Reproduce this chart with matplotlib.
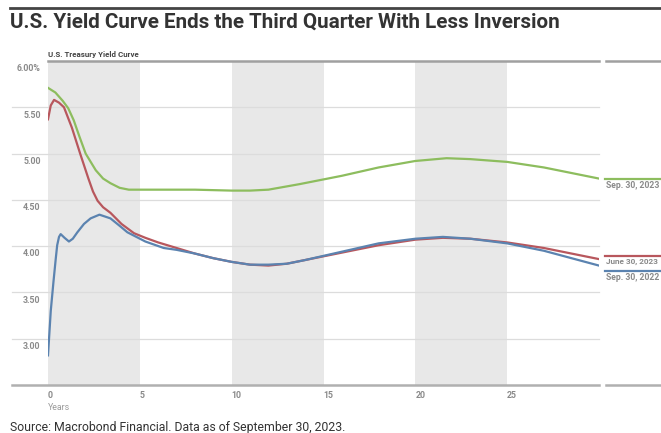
import matplotlib.pyplot as plt
from matplotlib.lines import Line2D

# yields (maturity in years, yield in %)
x_sep23 = [0, 0.4, 0.8, 1.1, 1.4, 1.7, 2.05, 2.6, 3.0, 3.4, 3.9, 4.4, 5, 7, 8, 10, 11, 12, 13.7, 16, 18, 20,
           21.7, 23, 25, 27, 30]
y_sep23 = [5.71, 5.66, 5.57, 5.49, 5.36, 5.19, 5.00, 4.82, 4.73, 4.68, 4.63, 4.61, 4.61, 4.61, 4.61, 4.60,
           4.60, 4.61, 4.67, 4.76, 4.85, 4.92, 4.95, 4.94, 4.91, 4.85, 4.73]

x_jun23 = [0, 0.15, 0.33, 0.6, 0.87, 1.3, 1.75, 2.2, 2.45, 2.7, 3.0, 3.4, 4.0, 4.68, 5.3, 6, 7, 8, 9, 10, 11,
           12, 13, 14, 16, 18, 20, 21.5, 23, 25, 27, 30]
y_jun23 = [5.37, 5.52, 5.58, 5.55, 5.50, 5.28, 5.00, 4.73, 4.59, 4.49, 4.42, 4.36, 4.24, 4.14, 4.09, 4.04,
           3.98, 3.92, 3.87, 3.83, 3.80, 3.79, 3.81, 3.85, 3.93, 4.01, 4.07, 4.09, 4.08, 4.04, 3.98, 3.86]

x_sep22 = [0, 0.15, 0.3, 0.42, 0.5, 0.6, 0.69, 0.9, 1.14, 1.35, 1.6, 1.96, 2.32, 2.8, 3.4, 3.96, 4.32, 5.3,
           6.3, 7, 8, 9, 10, 11, 12, 13, 14, 16, 18, 20, 21.5, 23, 25, 27, 30]
y_sep22 = [2.82, 3.30, 3.62, 3.86, 4.01, 4.10, 4.13, 4.09, 4.05, 4.08, 4.15, 4.24, 4.30, 4.34, 4.30, 4.21,
           4.15, 4.05, 3.98, 3.96, 3.92, 3.87, 3.83, 3.80, 3.80, 3.81, 3.85, 3.94, 4.03, 4.08, 4.10, 4.08,
           4.03, 3.95, 3.79]

series_names = ['Sep. 30, 2023', 'June 30, 2023', 'Sep. 30, 2022']
label_y = [4.73, 3.895, 3.73]
colors = ['#8dbd5e', '#b8575d', '#5b83b0']
y_ticks = [6.0, 5.5, 5.0, 4.5, 4.0, 3.5, 3.0]
y_tick_labels = ['6.00%', '5.50', '5.00', '4.50', '4.00', '3.50', '3.00']
x_ticks = [0, 5, 10, 15, 20, 25]

sans = ['Roboto', 'DejaVu Sans']

fig = plt.figure(figsize=(6.61, 4.33), dpi=100)
renderer = fig.canvas.get_renderer()


def fit(t, width_px):
    # shrink/grow font so the text spans the width seen in the reference
    w = t.get_window_extent(renderer).width
    t.set_fontsize(t.get_fontsize() * width_px / w)


ax = fig.add_axes([48 / 661, 1 - 385 / 433, 551 / 661, 324 / 433])
ax.set_xlim(0, 30)
ax.set_ylim(2.5, 6.0)
ax.axis('off')

# shaded bands
for a in (0, 10, 20):
    ax.axvspan(a, a + 5, color='#e8e8e8', lw=0, zorder=0)

# gridlines running out to the left
for v, lab in zip(y_ticks, y_tick_labels):
    if v == 6.0:
        ax.plot([0, 30], [v, v], color='#a0a0a0', lw=1.8, clip_on=False, zorder=1)
    else:
        ax.plot([-1.96, 30], [v, v], color='#dcdcdc', lw=0.9, clip_on=False, zorder=1)
    ax.text(-0.4, v - 0.035, lab, ha='right', va='top', fontsize=6.3, color='#8a8a8a',
            family=sans, fontweight='bold')
ax.plot([-1.96, 30], [2.5, 2.5], color='#b0b0b0', lw=1.8, clip_on=False, zorder=1)

for t in x_ticks:
    ax.text(t, 2.43, str(t), ha='left', va='top', fontsize=6.3, color='#8a8a8a', family=sans,
            fontweight='bold')
ax.text(0, 2.31, 'Years', ha='left', va='top', fontsize=6.3, color='#9a9a9a', family=sans)

# curves
for xs, ys, c in zip([x_sep23, x_jun23, x_sep22], [y_sep23, y_jun23, y_sep22], colors):
    ax.plot(xs, ys, color=c, lw=1.6, zorder=3, solid_joinstyle='round')

# right-hand label area
fig.add_artist(Line2D([606 / 661, 1], [1 - 61 / 433] * 2, color='#a0a0a0', lw=1.8))
fig.add_artist(Line2D([606 / 661, 1], [1 - 385 / 433] * 2, color='#b0b0b0', lw=1.8))
for name, v, c in zip(series_names, label_y, colors):
    fy = ax.transData.transform((0, v))[1] / 433
    fig.add_artist(Line2D([605 / 661, 1], [fy, fy], color=c, lw=1.6))
    lt = fig.text(606 / 661, fy - 2 / 433, name, ha='left', va='top', fontsize=6.5, color='#8a8a8a',
                  family=sans, fontweight='bold')
    fit(lt, 53)

# header
fig.add_artist(Line2D([10 / 661, 1], [1 - 8 / 433] * 2, color='#444444', lw=2))
title = fig.text(10 / 661, 1 - 22 / 433, 'U.S. Yield Curve Ends the Third Quarter With Less Inversion',
                 ha='left', va='center', fontsize=15, fontweight='bold', color='#333333', family=sans)
fit(title, 555)
sub = fig.text(48 / 661, 1 - 54 / 433, 'U.S. Treasury Yield Curve', ha='left', va='center', fontsize=5.5,
               fontweight='bold', color='#444444', family=sans)
fit(sub, 90)
src = fig.text(10 / 661, 1 - 427 / 433, 'Source: Macrobond Financial. Data as of September 30, 2023.',
               ha='left', va='center', fontsize=9, color='#333333', family=sans)
fit(src, 336)

fig.savefig('out.png', dpi=100)
